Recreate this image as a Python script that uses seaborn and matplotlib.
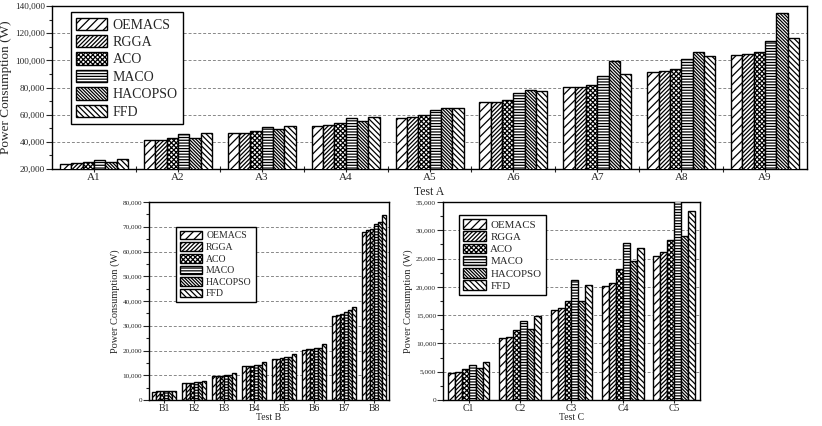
import numpy as np
import pandas as pd
import matplotlib
matplotlib.use("Agg")
import matplotlib.pyplot as plt
import seaborn as sns
from matplotlib.patches import Patch
from matplotlib.ticker import FuncFormatter, MultipleLocator, FixedLocator

# ---------------- data ----------------
algorithms = ["OEMACS", "RGGA", "ACO", "MACO", "HACOPSO", "FFD"]

tests_a = ["A1", "A2", "A3", "A4", "A5", "A6", "A7", "A8", "A9"]
oemacs_a = [24000, 41000, 46500, 52000, 57600, 69100, 80200, 91400, 103700]
rgga_a = [24200, 41200, 46800, 52300, 58000, 69200, 80500, 92200, 104500]
aco_a = [24800, 42500, 47800, 53500, 59500, 70800, 81900, 93900, 106200]
maco_a = [26800, 45500, 51200, 57500, 63400, 76000, 88500, 101000, 114300]
hacopso_a = [25000, 43000, 49500, 55000, 64700, 78000, 99500, 106400, 134700]
ffd_a = [27000, 46200, 52000, 58000, 64700, 77400, 89700, 103000, 116500]

tests_b = ["B1", "B2", "B3", "B4", "B5", "B6", "B7", "B8"]
oemacs_b = [3300, 6900, 9800, 13600, 16400, 20300, 34000, 68000]
rgga_b = [3500, 7000, 9900, 13800, 16700, 20600, 34500, 68600]
aco_b = [3500, 7000, 9900, 13900, 16900, 20700, 34700, 69100]
maco_b = [3500, 7100, 10000, 14000, 17200, 21000, 35600, 71200]
hacopso_b = [3500, 7100, 10100, 14000, 17300, 21000, 36300, 72000]
ffd_b = [3700, 7600, 10900, 15200, 18400, 22600, 37500, 74700]

tests_c = ["C1", "C2", "C3", "C4", "C5"]
oemacs_c = [4800, 10900, 15900, 20200, 25500]
rgga_c = [5000, 11100, 16250, 20700, 26100]
aco_c = [5500, 12300, 17450, 23230, 28260]
maco_c = [6200, 14000, 21170, 27750, 35200]
hacopso_c = [5650, 12640, 17450, 24660, 29060]
ffd_c = [6640, 14870, 20370, 26900, 33400]

hatches = ["////", "////////", "xxxxxxx", "------", "\\" * 10, "\\" * 6]


def long_df(tests, series):
    rows = []
    for alg, vals in zip(algorithms, series):
        for t, v in zip(tests, vals):
            rows.append({"Test": t, "Algorithm": alg, "Power": v})
    return pd.DataFrame(rows)


df_a = long_df(tests_a, [oemacs_a, rgga_a, aco_a, maco_a, hacopso_a, ffd_a])
df_b = long_df(tests_b, [oemacs_b, rgga_b, aco_b, maco_b, hacopso_b, ffd_b])
df_c = long_df(tests_c, [oemacs_c, rgga_c, aco_c, maco_c, hacopso_c, ffd_c])

# ---------------- style ----------------
sns.set_theme(style="ticks")
plt.rcParams["font.family"] = ["Liberation Serif", "DejaVu Serif"]
plt.rcParams["hatch.linewidth"] = 0.9
plt.rcParams["axes.linewidth"] = 1.0

fig = plt.figure(figsize=(8.22, 4.26), dpi=100)
ax_a = fig.add_axes([0.0633, 0.6033, 0.9185, 0.3826])
ax_b = fig.add_axes([0.1813, 0.0610, 0.2920, 0.4648])
ax_c = fig.add_axes([0.5389, 0.0610, 0.3127, 0.4648])

comma = FuncFormatter(lambda v, p: f"{int(round(v)):,}")


def draw(ax, df, order, ylim, major, minor, ytick_fs, xtick_fs, label_fs,
         xlabel_fs, xlabel, leg_xy, leg_fs, handle_len, xlabel_pad, lab_sp,
         xtick_len, xtick_pad):
    sns.barplot(data=df, x="Test", y="Power", hue="Algorithm", order=order,
                hue_order=algorithms, palette=["white"] * 6, width=0.81,
                edgecolor="black", linewidth=1.0, legend=False, ax=ax,
                errorbar=None, saturation=1, zorder=3)
    for cont, h in zip(ax.containers, hatches):
        for p in cont.patches:
            p.set_hatch(h)
            p.set_facecolor("white")
            p.set_edgecolor("black")
    ax.set_xlim(-0.5, len(order) - 0.5)
    ax.set_ylim(*ylim)
    ax.yaxis.set_major_locator(MultipleLocator(major))
    ax.yaxis.set_minor_locator(MultipleLocator(minor))
    ax.yaxis.set_major_formatter(comma)
    for s in ax.spines.values():
        s.set_visible(True)
        s.set_color("black")
    ax.grid(axis="y", which="major", linestyle=(0, (3, 2)), color="#888888",
            linewidth=0.7, zorder=0)
    ax.set_axisbelow(True)
    ax.tick_params(axis="y", which="major", direction="out", length=4,
                   width=0.8, labelsize=ytick_fs, pad=1)
    ax.tick_params(axis="y", which="minor", direction="out", length=2,
                   width=0.8, left=True)
    ax.tick_params(axis="x", which="major", direction="out", length=xtick_len,
                   width=0.8, labelsize=xtick_fs, pad=xtick_pad)
    ax.set_xlabel(xlabel, fontsize=xlabel_fs, labelpad=xlabel_pad)
    ax.set_ylabel("Power Consumption (W)", fontsize=label_fs, labelpad=2)
    handles = [Patch(facecolor="white", edgecolor="black", hatch=h, label=a)
               for a, h in zip(algorithms, hatches)]
    leg = ax.legend(handles=handles, loc="upper left", bbox_to_anchor=leg_xy,
                    fontsize=leg_fs, frameon=True, fancybox=False,
                    edgecolor="black", framealpha=1, handlelength=handle_len,
                    handleheight=1.0, labelspacing=lab_sp, handletextpad=0.4,
                    borderpad=0.4, borderaxespad=0)
    leg.get_frame().set_linewidth(1.0)
    leg.set_zorder(10)


draw(ax_a, df_a, tests_a, (20000, 140000), 20000, 10000, 6.6, 8, 9.5, 8.5,
     "Test A", (0.025, 0.963), 10, 2.2, 2.5, 0.25, 3, 1)
draw(ax_b, df_b, tests_b, (0, 80000), 10000, 5000, 5.2, 7.0, 7.5, 7.0,
     "Test B", (0.1125, 0.875), 7.0, 2.3, 0, 0.2, 2.5, 0.5)
draw(ax_c, df_c, tests_c, (0, 35000), 5000, 2500, 5.3, 7.0, 7.5, 7.0,
     "Test C", (0.062, 0.935), 7.8, 2.1, 0, 0.15, 2.5, 0.5)

# boundary minor ticks on the top chart x axis
ax_a.xaxis.set_minor_locator(FixedLocator(np.arange(0.5, len(tests_a) - 0.5, 1.0)))
ax_a.tick_params(axis="x", which="minor", direction="inout", length=4,
                 width=0.8, bottom=True)
ax_a.tick_params(axis="x", which="major", direction="inout", length=4)

fig.savefig("out.png", dpi=100)
